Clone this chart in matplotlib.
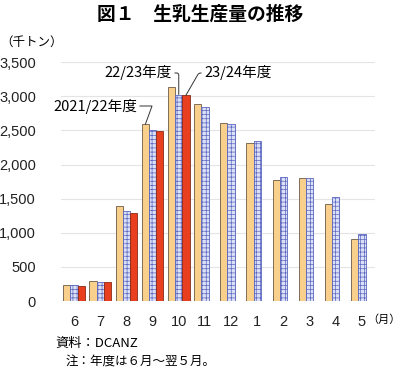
import matplotlib
matplotlib.use('Agg')
from matplotlib import pyplot
import numpy

pyplot.rcParams['font.family'] = ['Noto Sans CJK JP', 'DejaVu Sans']
pyplot.rcParams['hatch.linewidth'] = 0.5

months = ['6', '7', '8', '9', '10', '11', '12', '1', '2', '3', '4', '5']
fy2021 = [230, 300, 1390, 2590, 3130, 2880, 2605, 2320, 1775, 1805, 1420, 905]
fy2022 = [230, 285, 1320, 2505, 3025, 2835, 2590, 2345, 1810, 1805, 1520, 975]
fy2023 = [225, 285, 1295, 2490, 3015]
series_names = ['2021/22年度', '22/23年度', '23/24年度']

x = numpy.arange(len(months))
w = 0.275

fig = pyplot.figure(figsize=(4, 3.74), dpi=100)
ax = fig.add_axes([0.1525, 0.195, 0.785, 0.639])

ax.bar(x - w, fy2021, w, color='#F9CF8C', edgecolor='#6b5a45', linewidth=0.6, zorder=3)
ax.bar(x, fy2022, w, color='#DCE0F6', edgecolor='#5A66C0', hatch='++++', linewidth=0.6, zorder=3)
ax.bar(x[:len(fy2023)] + w, fy2023, w, color='#E8401E', edgecolor='#8a2a15', linewidth=0.6, zorder=3)

ax.set_xlim(-0.5, len(months) - 0.5)
ax.set_ylim(0, 3500)
ax.set_yticks(range(0, 3501, 500))
ax.set_yticklabels(['{:,}'.format(v) for v in range(0, 3501, 500)])
ax.set_xticks(x)
ax.set_xticklabels(months)
ax.tick_params(axis='both', length=0, labelsize=10.5, colors='#222222',
               labelfontfamily='Liberation Sans')
ax.tick_params(axis='y', pad=18)
ax.tick_params(axis='x', pad=10)
ax.grid(axis='y', color='#e4e4e4', linewidth=0.8, zorder=0)
for s in ax.spines.values():
    s.set_visible(False)

# leader labels
line = dict(arrowstyle='-', color='#333333', linewidth=0.7, shrinkA=0, shrinkB=0)
ax.annotate(series_names[0], xy=(x[3] - w, fy2021[3]), xytext=(137, 268),
            textcoords='figure pixels', ha='right', va='center', fontsize=10.5,
            arrowprops=dict(line, connectionstyle='angle,angleA=0,angleB=70,rad=0'))
ax.annotate(series_names[1], xy=(x[4], fy2022[4]), xytext=(172, 301),
            textcoords='figure pixels', ha='right', va='center', fontsize=10.5,
            arrowprops=dict(line, connectionstyle='angle,angleA=0,angleB=90,rad=2'))
ax.annotate(series_names[2], xy=(x[4] + w, fy2023[4]), xytext=(204, 301),
            textcoords='figure pixels', ha='left', va='center', fontsize=10.5,
            arrowprops=dict(line, connectionstyle='angle,angleA=180,angleB=60,rad=2'))

fig.text(0.5, 0.962, '図１　生乳生産量の推移', ha='center', va='center',
         fontsize=13.5, fontweight='bold')
fig.text(0.0, 0.888, '（千トン）', ha='left', va='center', fontsize=9)
fig.text(0.917, 0.145, '（月）', ha='left', va='center', fontsize=8)
fig.text(0.138, 0.083, '資料：DCANZ', ha='left', va='center', fontsize=9.5)
fig.text(0.163, 0.032, '注：年度は６月～翌５月。', ha='left', va='center', fontsize=9)

fig.savefig('out.png', dpi=100)
